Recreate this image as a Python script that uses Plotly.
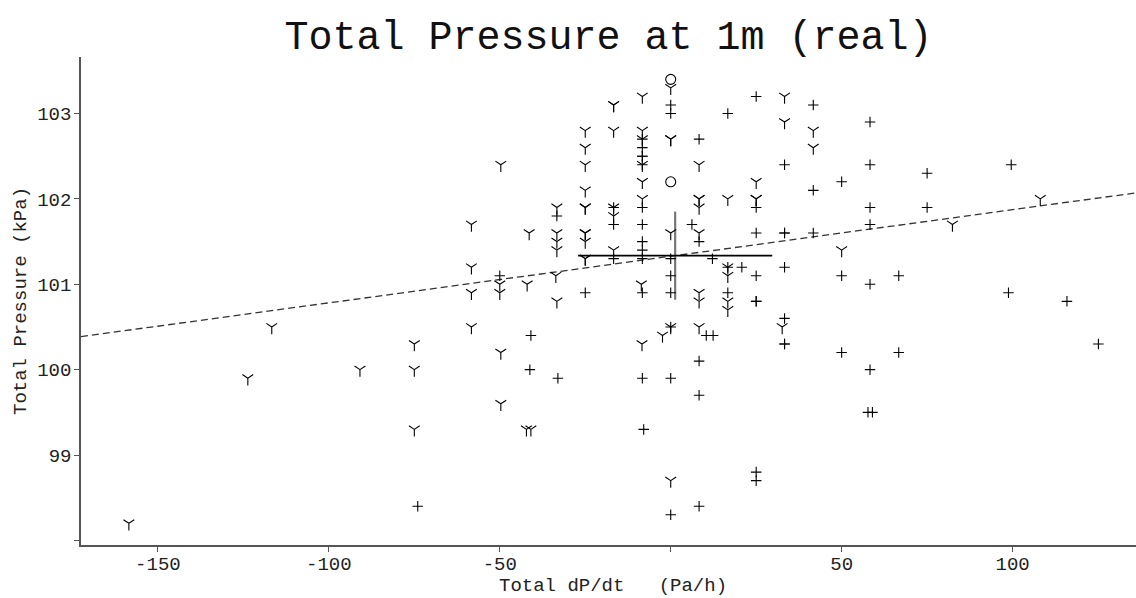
import plotly.graph_objects as go

# ---- data ----
y_marker_x = [-158.5, -123.7, -116.7, -90.9, -75.0, -75.0, -75.0,
              -58.3, -58.3, -58.3, -58.3,
              -49.7, -50.0, -50.0, -49.7, -49.7,
              -41.4, -42.0, -42.2, -40.9,
              -33.3, -33.3, -33.3, -33.3, -33.6, -33.3,
              -25.0, -25.0, -25.0, -25.0, -25.0, -25.0, -25.0, -25.0, -25.0, -25.0, -25.0,
              -16.7, -16.7, -16.7, -16.7, -16.7, -16.7,
              -8.3, -8.3, -8.3, -8.3, -8.3, -8.3, -8.6, -8.4,
              -2.4,
              0.0, 0.0, 0.0, 0.0, 0.0, 0.0,
              8.3, 8.3, 8.3, 8.3, 8.3, 8.3, 8.3, 8.3,
              16.7, 16.7, 16.7, 16.7, 16.7,
              25.0, 25.0, 25.0,
              33.3, 33.3, 32.6,
              41.7, 41.7,
              50.0, 82.4, 108.1]
y_marker_y = [98.2, 99.9, 100.5, 100.0, 100.3, 100.0, 99.3,
              101.7, 101.2, 100.9, 100.5,
              102.4, 101.0, 100.9, 100.2, 99.6,
              101.6, 101.0, 99.3, 99.3,
              101.9, 101.6, 101.5, 101.4, 101.1, 100.8,
              102.8, 102.6, 102.4, 102.1, 101.9, 101.9, 101.6, 101.6, 101.5, 101.3, 101.3,
              103.1, 103.1, 102.8, 101.9, 101.8, 101.4,
              103.2, 102.8, 102.7, 102.4, 102.2, 102.0, 101.0, 100.3,
              100.4,
              103.3, 102.7, 102.7, 101.6, 100.5, 98.7,
              102.4, 102.0, 102.0, 101.9, 101.6, 100.9, 100.8, 100.5,
              102.0, 101.2, 101.1, 100.8, 100.7,
              102.2, 102.0, 102.0,
              103.2, 102.9, 100.5,
              102.8, 102.6,
              101.4, 101.7, 102.0]

cross_x = [-74.0, -50.0, -40.9, -41.2, -33.3, -33.0, -25.0,
           -16.7, -16.7, -16.7, -7.9,
           -8.3, -8.3, -8.3, -8.3, -8.3, -8.3, -8.3, -8.3, -8.3, -8.3, -8.3, -8.3,
           0.0, 0.0, 0.0, 0.0, 0.0, 0.0, 0.0, 0.0,
           6.2, 8.3, 8.3, 8.3, 8.3, 8.3, 10.4, 12.4, 12.2,
           16.7, 16.7, 16.7, 20.8,
           25.0, 25.0, 25.0, 25.0, 25.0, 25.0, 25.0, 25.0,
           33.3, 33.3, 33.3, 33.3, 33.3, 33.3, 33.3,
           41.7, 41.7, 41.7,
           50.0, 50.0, 50.0,
           58.3, 58.3, 58.3, 58.3, 58.3, 58.3, 57.7, 59.0,
           66.7, 66.7, 75.0, 75.0,
           99.6, 98.8, 115.9, 125.1]
cross_y = [98.4, 101.1, 100.4, 100.0, 101.8, 99.9, 100.9,
           101.9, 101.7, 101.3, 99.3,
           102.7, 102.6, 102.5, 102.5, 102.4, 101.9, 101.7, 101.5, 101.4, 101.3, 100.9, 99.9,
           103.1, 103.0, 101.3, 101.1, 100.9, 100.5, 99.9, 98.3,
           101.7, 102.7, 101.5, 100.1, 99.7, 98.4, 100.4, 100.4, 101.3,
           103.0, 101.2, 100.9, 101.2,
           103.2, 101.9, 101.6, 101.1, 100.8, 100.8, 98.8, 98.7,
           102.4, 101.6, 101.6, 101.2, 100.6, 100.3, 100.3,
           103.1, 102.1, 101.6,
           102.2, 101.1, 100.2,
           102.9, 102.4, 101.9, 101.7, 101.0, 100.0, 99.5, 99.5,
           101.1, 100.2, 102.3, 101.9,
           102.4, 100.9, 100.8, 100.3]

circle_x = [0.0, 0.0]
circle_y = [103.4, 102.2]

# regression line and mean +/- spread
fit_slope = 0.005457
fit_intercept = 101.328
mean_x = 1.3
mean_y = 101.335
spread_x = 28.4
spread_y = 0.516

x_range = [-172.5, 136.1]
y_range = [97.946, 103.662]

x_tickvals = [-150, -100, -50, 0, 50, 100]
x_ticktext = ["-150", "-100", "-50", "", "50", "100"]
y_tickvals = [98, 99, 100, 101, 102, 103]
y_ticktext = ["", "99", "100", "101", "102", "103"]

title_text = "Total Pressure at 1m (real)"
x_title = "Total dP/dt   (Pa/h)"
y_title = "Total Pressure (kPa)"

FONT = "Liberation Mono, Courier New, monospace"

fig = go.Figure()

fig.add_trace(go.Scatter(
    x=x_range,
    y=[fit_intercept + fit_slope * v for v in x_range],
    mode="lines",
    line=dict(color="#333333", width=1.3, dash="7px,4px"),
    hoverinfo="skip", showlegend=False))

fig.add_trace(go.Scatter(
    x=[mean_x], y=[mean_y], mode="markers",
    marker=dict(size=1, color="rgba(0,0,0,0)"),
    error_x=dict(type="data", array=[spread_x], width=0, color="#000000", thickness=1.6),
    error_y=dict(type="data", array=[spread_y], width=0, color="#777777", thickness=2.2),
    showlegend=False))

fig.add_trace(go.Scatter(
    x=y_marker_x, y=y_marker_y, mode="markers",
    marker=dict(symbol="y-down", size=9, color="black",
                line=dict(color="black", width=1.1)),
    showlegend=False))

fig.add_trace(go.Scatter(
    x=cross_x, y=cross_y, mode="markers",
    marker=dict(symbol="cross-thin", size=7.5, color="black",
                line=dict(color="black", width=1.1)),
    showlegend=False))

fig.add_trace(go.Scatter(
    x=circle_x, y=circle_y, mode="markers",
    marker=dict(symbol="circle-open", size=10, color="black",
                line=dict(color="black", width=1.1)),
    showlegend=False))

axis_common = dict(
    showgrid=False, zeroline=False, showline=True, automargin=False,
    linecolor="#555555", linewidth=1.5,
    ticks="outside", ticklen=5, tickwidth=1.3, tickcolor="#555555",
    tickfont=dict(family=FONT, size=19, color="#222222"),
    mirror=False,
)

fig.update_xaxes(range=x_range, tickmode="array", tickvals=x_tickvals,
                 ticktext=x_ticktext, ticklabelstandoff=-5, **axis_common)
fig.update_yaxes(range=y_range, tickmode="array", tickvals=y_tickvals,
                 ticktext=y_ticktext, ticklabelstandoff=-1, **axis_common)

fig.add_annotation(text=x_title, xref="paper", yref="paper", x=0.5, y=0,
                   xanchor="center", yanchor="middle", xshift=4, yshift=-41,
                   showarrow=False, font=dict(family=FONT, size=19, color="#222222"))
fig.add_annotation(text=y_title, xref="paper", yref="paper", x=0, y=0.5,
                   xanchor="center", yanchor="middle", xshift=-60, yshift=0,
                   textangle=-90, showarrow=False,
                   font=dict(family=FONT, size=19, color="#222222"))

fig.update_layout(
    width=1136, height=598,
    margin=dict(l=81, r=0, t=57, b=53),
    paper_bgcolor="white", plot_bgcolor="white",
    title=dict(text=title_text,
               font=dict(family=FONT, size=40, color="#111111"),
               x=0.5, xref="paper", xanchor="center",
               y=1 - 35 / 598, yref="container", yanchor="middle"),
    showlegend=False,
)

fig.write_html("out.html",
               config={"displayModeBar": False},
               post_script="document.body.style.margin='0px';"
                           "document.body.style.overflow='hidden';")
